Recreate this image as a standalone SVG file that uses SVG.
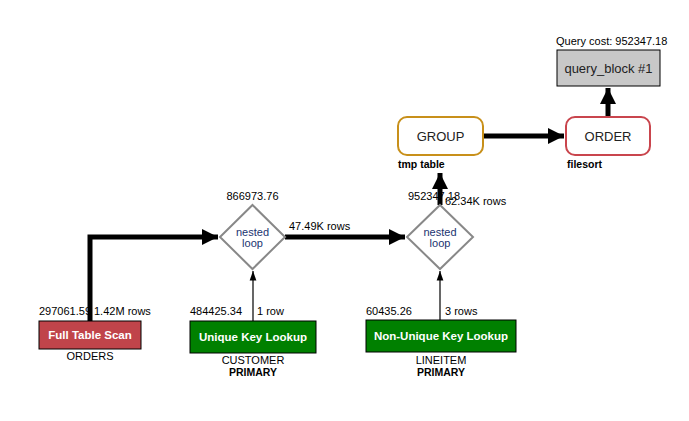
<svg xmlns="http://www.w3.org/2000/svg" width="689" height="421" viewBox="0 0 689 421">
<style>
text{font-family:"Liberation Sans",Arial,sans-serif;font-size:11px;fill:#000}
.w{fill:#fff;font-weight:bold;font-size:11.5px}
.b{font-weight:bold;font-size:10.5px}
.nl{fill:#1a3370;font-size:11px}
.op{fill:#222;font-size:13px}
.thick{stroke:#000;stroke-width:5;fill:none}
.thin{stroke:#000;stroke-width:1.2;fill:none}
.dia{fill:#fff;stroke:#888;stroke-width:2}
</style>
<defs>
<marker id="ah" viewBox="0 0 10 10" refX="10" refY="5" markerWidth="4" markerHeight="3.2" orient="auto" markerUnits="strokeWidth"><path d="M0,0L10,5L0,10z" fill="#000"/></marker>
<marker id="as" viewBox="0 0 10 10" refX="10" refY="5" markerWidth="8" markerHeight="8" orient="auto" markerUnits="strokeWidth"><path d="M0,1.5L10,5L0,8.5z" fill="#000"/></marker>
</defs>
<rect width="689" height="421" fill="#fff"/>
<g id="connectors">
<path class="thick" d="M90,321V237H218" marker-end="url(#ah)"/>
<path class="thick" d="M285,237H405" marker-end="url(#ah)"/>
<path class="thick" d="M440,205V173" marker-end="url(#ah)"/>
<path class="thick" d="M483,136H564" marker-end="url(#ah)"/>
<path class="thick" d="M608,117V88" marker-end="url(#ah)"/>
<path class="thin" d="M253,321V271" marker-end="url(#as)"/>
<path class="thin" d="M440,320V271" marker-end="url(#as)"/>
<text x="39" y="315">297061.59</text>
<text x="94" y="315">1.42M rows</text>
<text x="190" y="315">484425.34</text>
<text x="257" y="315">1 row</text>
<text x="366" y="315">60435.26</text>
<text x="445" y="315">3 rows</text>
<text x="289" y="230">47.49K rows</text>
<text x="408" y="200">952347.18</text>
<text x="445" y="205">62.34K rows</text>
</g>
<g id="query_block">
<text x="556" y="45">Query cost: 952347.18</text>
<rect x="557" y="50" width="103" height="36" fill="#c8c8c8" stroke="#000" stroke-width="1"/>
<text class="op" x="608.5" y="72.5" text-anchor="middle">query_block #1</text>
</g>
<g id="order">
<rect x="566" y="117" width="84" height="38" rx="9" fill="#fff" stroke="#c9454d" stroke-width="2"/>
<text class="op" x="608" y="141" text-anchor="middle">ORDER</text>
<text class="b" x="567" y="168">filesort</text>
</g>
<g id="group">
<rect x="398" y="117" width="85" height="38" rx="9" fill="#fff" stroke="#c8901a" stroke-width="2"/>
<text class="op" x="440.5" y="141" text-anchor="middle">GROUP</text>
<text class="b" x="398" y="168">tmp table</text>
</g>
<g id="nested_loop_2">
<polygon class="dia" points="440,205 473,237 440,269 407,237"/>
<text class="nl" x="440" y="236" text-anchor="middle">nested</text>
<text class="nl" x="440" y="246.5" text-anchor="middle">loop</text>
</g>
<g id="nested_loop_1">
<text x="252.5" y="200" text-anchor="middle">866973.76</text>
<polygon class="dia" points="252.5,205 285,237 252.5,269 220,237"/>
<text class="nl" x="252.5" y="236" text-anchor="middle">nested</text>
<text class="nl" x="252.5" y="246.5" text-anchor="middle">loop</text>
</g>
<g id="orders_scan">
<rect x="39" y="321" width="102" height="28" fill="#c0444a" stroke="#000" stroke-width="1"/>
<text class="w" x="90" y="339" text-anchor="middle">Full Table Scan</text>
<text x="90" y="360" text-anchor="middle">ORDERS</text>
</g>
<g id="customer_lookup">
<rect x="190" y="321" width="126" height="32" fill="#008000" stroke="#000" stroke-width="1"/>
<text class="w" x="253" y="341" text-anchor="middle">Unique Key Lookup</text>
<text x="253" y="363.5" text-anchor="middle">CUSTOMER</text>
<text class="b" x="253" y="375.5" text-anchor="middle">PRIMARY</text>
</g>
<g id="lineitem_lookup">
<rect x="366" y="320" width="150" height="32" fill="#008000" stroke="#000" stroke-width="1"/>
<text class="w" x="441" y="340" text-anchor="middle">Non-Unique Key Lookup</text>
<text x="441" y="363.5" text-anchor="middle">LINEITEM</text>
<text class="b" x="441" y="375.5" text-anchor="middle">PRIMARY</text>
</g>
</svg>
